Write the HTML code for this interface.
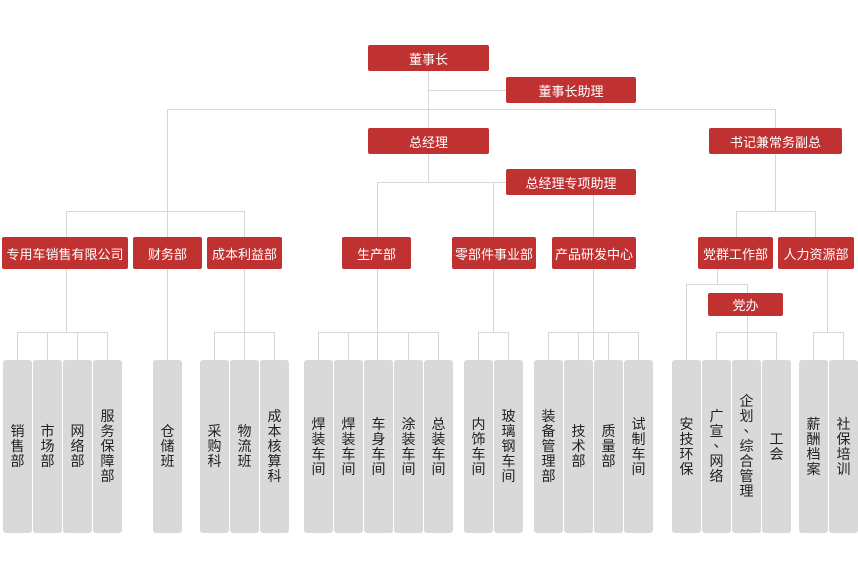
<!DOCTYPE html>
<html><head><meta charset="utf-8">
<style>
html,body{margin:0;padding:0;background:#fff;}
body{width:858px;height:588px;position:relative;overflow:hidden;font-family:"Liberation Sans","Noto Sans CJK SC",sans-serif;}
.r{position:absolute;background:#c03232;color:#fff;font-size:13px;border-radius:2px;display:flex;align-items:center;justify-content:center;white-space:nowrap;}
.g{position:absolute;top:360px;height:173px;width:29px;background:#d9d9d9;border-radius:3px;color:#222;font-size:14px;line-height:15px;display:flex;align-items:center;justify-content:center;text-align:center;}
.p{position:relative;left:4px;top:-4px;}
.h{position:absolute;height:1px;background:#d6d6d6;}
.v{position:absolute;width:1px;background:#d6d6d6;}
</style></head><body>
<div class="v" style="left:428px;top:71px;height:57px"></div>
<div class="h" style="left:428px;top:90px;width:78px"></div>
<div class="h" style="left:167px;top:109px;width:609px"></div>
<div class="v" style="left:167px;top:109px;height:102px"></div>
<div class="v" style="left:775px;top:109px;height:19px"></div>
<div class="h" style="left:66px;top:211px;width:178px"></div>
<div class="v" style="left:66px;top:211px;height:26px"></div>
<div class="v" style="left:167px;top:211px;height:26px"></div>
<div class="v" style="left:244px;top:211px;height:26px"></div>
<div class="v" style="left:428px;top:154px;height:28px"></div>
<div class="h" style="left:377px;top:182px;width:129px"></div>
<div class="v" style="left:377px;top:182px;height:55px"></div>
<div class="v" style="left:493px;top:182px;height:55px"></div>
<div class="v" style="left:593px;top:195px;height:42px"></div>
<div class="v" style="left:775px;top:154px;height:57px"></div>
<div class="h" style="left:736px;top:211px;width:80px"></div>
<div class="v" style="left:736px;top:211px;height:26px"></div>
<div class="v" style="left:815px;top:211px;height:26px"></div>
<div class="v" style="left:66px;top:269px;height:63px"></div>
<div class="h" style="left:17px;top:332px;width:91px"></div>
<div class="v" style="left:17px;top:332px;height:28px"></div>
<div class="v" style="left:47px;top:332px;height:28px"></div>
<div class="v" style="left:77px;top:332px;height:28px"></div>
<div class="v" style="left:107px;top:332px;height:28px"></div>
<div class="v" style="left:167px;top:269px;height:91px"></div>
<div class="v" style="left:244px;top:269px;height:91px"></div>
<div class="h" style="left:214px;top:332px;width:61px"></div>
<div class="v" style="left:214px;top:332px;height:28px"></div>
<div class="v" style="left:274px;top:332px;height:28px"></div>
<div class="v" style="left:377px;top:269px;height:91px"></div>
<div class="h" style="left:318px;top:332px;width:121px"></div>
<div class="v" style="left:318px;top:332px;height:28px"></div>
<div class="v" style="left:348px;top:332px;height:28px"></div>
<div class="v" style="left:408px;top:332px;height:28px"></div>
<div class="v" style="left:438px;top:332px;height:28px"></div>
<div class="v" style="left:493px;top:269px;height:63px"></div>
<div class="h" style="left:478px;top:332px;width:31px"></div>
<div class="v" style="left:478px;top:332px;height:28px"></div>
<div class="v" style="left:508px;top:332px;height:28px"></div>
<div class="v" style="left:593px;top:269px;height:91px"></div>
<div class="h" style="left:548px;top:332px;width:91px"></div>
<div class="v" style="left:548px;top:332px;height:28px"></div>
<div class="v" style="left:578px;top:332px;height:28px"></div>
<div class="v" style="left:608px;top:332px;height:28px"></div>
<div class="v" style="left:638px;top:332px;height:28px"></div>
<div class="v" style="left:717px;top:269px;height:15px"></div>
<div class="h" style="left:686px;top:284px;width:62px"></div>
<div class="v" style="left:686px;top:284px;height:76px"></div>
<div class="v" style="left:747px;top:284px;height:9px"></div>
<div class="v" style="left:747px;top:316px;height:44px"></div>
<div class="h" style="left:716px;top:332px;width:61px"></div>
<div class="v" style="left:716px;top:332px;height:28px"></div>
<div class="v" style="left:776px;top:332px;height:28px"></div>
<div class="v" style="left:827px;top:269px;height:63px"></div>
<div class="h" style="left:813px;top:332px;width:31px"></div>
<div class="v" style="left:813px;top:332px;height:28px"></div>
<div class="v" style="left:843px;top:332px;height:28px"></div>
<div class="r" style="left:368px;top:45px;width:121px;height:26px">董事长</div>
<div class="r" style="left:506px;top:77px;width:130px;height:26px">董事长助理</div>
<div class="r" style="left:368px;top:128px;width:121px;height:26px">总经理</div>
<div class="r" style="left:709px;top:128px;width:133px;height:26px">书记兼常务副总</div>
<div class="r" style="left:506px;top:169px;width:130px;height:26px">总经理专项助理</div>
<div class="r" style="left:2px;top:237px;width:126px;height:32px">专用车销售有限公司</div>
<div class="r" style="left:133px;top:237px;width:69px;height:32px">财务部</div>
<div class="r" style="left:207px;top:237px;width:75px;height:32px">成本利益部</div>
<div class="r" style="left:342px;top:237px;width:69px;height:32px">生产部</div>
<div class="r" style="left:452px;top:237px;width:84px;height:32px">零部件事业部</div>
<div class="r" style="left:552px;top:237px;width:84px;height:32px">产品研发中心</div>
<div class="r" style="left:698px;top:237px;width:75px;height:32px">党群工作部</div>
<div class="r" style="left:778px;top:237px;width:76px;height:32px">人力资源部</div>
<div class="r" style="left:708px;top:293px;width:75px;height:23px">党办</div>
<div class="g" style="left:3px">销<br>售<br>部</div>
<div class="g" style="left:33px">市<br>场<br>部</div>
<div class="g" style="left:63px">网<br>络<br>部</div>
<div class="g" style="left:93px">服<br>务<br>保<br>障<br>部</div>
<div class="g" style="left:153px">仓<br>储<br>班</div>
<div class="g" style="left:200px">采<br>购<br>科</div>
<div class="g" style="left:230px">物<br>流<br>班</div>
<div class="g" style="left:260px">成<br>本<br>核<br>算<br>科</div>
<div class="g" style="left:304px">焊<br>装<br>车<br>间</div>
<div class="g" style="left:334px">焊<br>装<br>车<br>间</div>
<div class="g" style="left:364px">车<br>身<br>车<br>间</div>
<div class="g" style="left:394px">涂<br>装<br>车<br>间</div>
<div class="g" style="left:424px">总<br>装<br>车<br>间</div>
<div class="g" style="left:464px">内<br>饰<br>车<br>间</div>
<div class="g" style="left:494px">玻<br>璃<br>钢<br>车<br>间</div>
<div class="g" style="left:534px">装<br>备<br>管<br>理<br>部</div>
<div class="g" style="left:564px">技<br>术<br>部</div>
<div class="g" style="left:594px">质<br>量<br>部</div>
<div class="g" style="left:624px">试<br>制<br>车<br>间</div>
<div class="g" style="left:672px">安<br>技<br>环<br>保</div>
<div class="g" style="left:702px"><div>广<br>宣<br><span class="p">、</span><br>网<br>络</div></div>
<div class="g" style="left:732px"><div>企<br>划<br><span class="p">、</span><br>综<br>合<br>管<br>理</div></div>
<div class="g" style="left:762px">工<br>会</div>
<div class="g" style="left:799px">薪<br>酬<br>档<br>案</div>
<div class="g" style="left:829px">社<br>保<br>培<br>训</div>
</body></html>
